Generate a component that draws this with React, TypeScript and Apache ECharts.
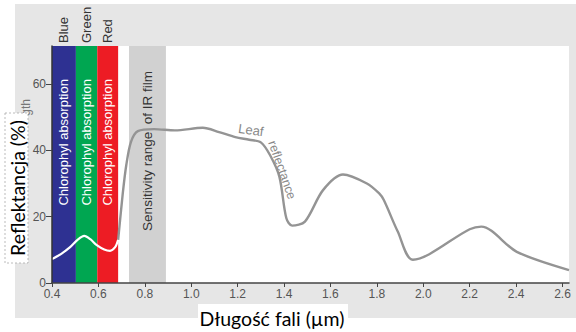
import React, { useEffect, useRef } from "react";
import * as echarts from "echarts";

// ---- data ----
const xTicks = [0.4, 0.6, 0.8, 1.0, 1.2, 1.4, 1.6, 1.8, 2.0, 2.2, 2.4, 2.6];
const yTicks = [0, 20, 40, 60];

const bandNames = ["Blue", "Green", "Red", ""];
const bandFrom = [0.4, 0.503, 0.595, 0.732];
const bandTo = [0.503, 0.595, 0.685, 0.891];
const bandLabels = [
  "Chlorophyl absorption",
  "Chlorophyl absorption",
  "Chlorophyl absorption",
  "Sensitivity range  of IR film",
];

// visible-light part of the curve (drawn white over the coloured bands)
const visibleCurve: [number, number][] = [
  [0.4, 7.2], [0.44, 8.8], [0.478, 10.8], [0.51, 13], [0.539, 14.2],
  [0.565, 13.2], [0.593, 11.4], [0.625, 10.1], [0.65, 9.7], [0.672, 10.8], [0.685, 13],
];
// rest of the leaf reflectance curve
const leafCurve: [number, number][] = [
  [0.685, 13], [0.705, 27], [0.72, 35.5], [0.74, 42.5], [0.77, 45.8],
  [0.84, 46.4], [0.93, 46], [1.05, 46.8], [1.12, 45.5], [1.19, 44],
  [1.25, 43.2], [1.3, 42.4], [1.34, 38.5], [1.38, 32], [1.41, 19.5], [1.435, 17.3],
  [1.49, 18.5], [1.568, 28], [1.654, 32.7], [1.757, 30], [1.81, 27], [1.83, 25],
  [1.89, 15.5], [1.955, 7], [2.2, 16.2], [2.25, 17], [2.403, 9.4], [2.628, 3.9],
];

const bandColors = ["#2e3192", "#00a651", "#ed1c24", "#d1d1d1"];
const bandTextColors = ["#ffffff", "#ffffff", "#ffffff", "#333333"];
const bandTextY = [42.4, 42.4, 42.4, 39.8];
const bandTextSize = [13, 13, 13, 13.5];

const X_MIN = 0.4;
const X_MAX = 2.628;
const Y_MAX = 71.45;
const FONT = "'Liberation Sans', Arial, sans-serif";
const OVERLAY_FONT = "Lato, 'Open Sans', sans-serif";

export default function App() {
  const ref = useRef<HTMLDivElement>(null);

  useEffect(() => {
    if (!ref.current) return;
    const chart = echarts.init(ref.current, undefined, { renderer: "svg" });

    const bandData = bandFrom.map((f, i) => [f, bandTo[i], i]);

    const option: any = {
      animation: false,
      grid: {
        left: 52,
        right: 7,
        top: 46,
        bottom: 49,
        show: true,
        backgroundColor: "#ffffff",
        borderWidth: 0,
      },
      xAxis: {
        type: "value",
        min: X_MIN,
        max: X_MAX,
        z: 10,
        splitLine: { show: false },
        axisLine: { show: true, lineStyle: { color: "#444", width: 1.5 } },
        axisTick: {
          show: true,
          length: 4,
          customValues: xTicks,
          lineStyle: { color: "#444" },
        },
        axisLabel: {
          customValues: xTicks,
          color: "#555",
          fontFamily: FONT,
          fontSize: 12,
          margin: 5,
          formatter: (v: number) => v.toFixed(1),
        },
      },
      yAxis: {
        type: "value",
        min: 0,
        max: Y_MAX,
        z: 10,
        splitLine: { show: false },
        axisLine: { show: true, lineStyle: { color: "#333", width: 1.5 } },
        axisTick: {
          show: true,
          length: 6,
          customValues: yTicks,
          lineStyle: { color: "#444" },
        },
        axisLabel: {
          customValues: yTicks,
          color: "#555",
          fontFamily: FONT,
          fontSize: 12,
          margin: 6,
        },
      },
      series: [
        {
          type: "custom",
          z: 1,
          data: bandData,
          renderItem: (params: any, api: any) => {
            const i = params.dataIndex;
            const from = api.value(0);
            const to = api.value(1);
            const p0 = api.coord([from, Y_MAX]);
            const p1 = api.coord([to, 0]);
            const cx = (p0[0] + p1[0]) / 2;
            const ty = api.coord([from, bandTextY[i]])[1];
            const children: any[] = [
              {
                type: "rect",
                shape: { x: p0[0], y: p0[1], width: p1[0] - p0[0], height: p1[1] - p0[1] },
                style: { fill: bandColors[i] },
              },
              {
                type: "text",
                x: cx,
                y: ty,
                rotation: Math.PI / 2,
                style: {
                  text: bandLabels[i],
                  fill: bandTextColors[i],
                  font: `${bandTextSize[i]}px ${FONT}`,
                  align: "center",
                  verticalAlign: "middle",
                },
              },
            ];
            if (bandNames[i]) {
              children.push({
                type: "text",
                x: cx,
                y: p0[1] - 3,
                rotation: Math.PI / 2,
                style: {
                  text: bandNames[i],
                  fill: "#333",
                  font: `13px ${FONT}`,
                  align: "left",
                  verticalAlign: "middle",
                },
              });
            }
            return { type: "group", children };
          },
        },
        {
          type: "line",
          z: 3,
          data: leafCurve,
          smooth: 0.3,
          symbol: "none",
          lineStyle: { color: "#949494", width: 2.4 },
        },
        {
          type: "line",
          z: 3,
          data: visibleCurve,
          smooth: 0.3,
          symbol: "none",
          lineStyle: { color: "#ffffff", width: 2.2 },
        },
      ],
      graphic: [
        // curve annotation
        {
          type: "text",
          x: 251,
          y: 130,
          rotation: -0.14,
          z: 20,
          style: {
            text: "Leaf",
            fill: "#888",
            font: `13px ${FONT}`,
            align: "center",
            verticalAlign: "middle",
          },
        },
        {
          type: "text",
          x: 282,
          y: 170,
          rotation: -1.23,
          z: 20,
          style: {
            text: "reflectance",
            fill: "#888",
            font: `12.5px ${FONT}`,
            align: "center",
            verticalAlign: "middle",
          },
        },
        // remnant of the original axis title peeking out above the overlay
        {
          type: "text",
          x: 26,
          y: 99,
          rotation: Math.PI / 2,
          z: 20,
          style: {
            text: "gth",
            fill: "#777",
            font: `12px ${FONT}`,
            align: "right",
            verticalAlign: "middle",
          },
        },
        // overlay title boxes
        {
          type: "rect",
          z: 30,
          shape: { x: 5, y: 113, width: 23, height: 150 },
          style: { fill: "#ffffff", stroke: "#aaa", lineWidth: 0.8, lineDash: [2, 2] },
        },
        {
          type: "text",
          x: 17,
          y: 188,
          rotation: Math.PI / 2,
          z: 31,
          style: {
            text: "Reflektancja (%)",
            fill: "#000",
            font: `19.5px ${OVERLAY_FONT}`,
            align: "center",
            verticalAlign: "middle",
          },
        },
        {
          type: "rect",
          z: 30,
          shape: { x: 198, y: 304, width: 150, height: 28 },
          style: { fill: "#ffffff" },
        },
        {
          type: "text",
          x: 272,
          y: 318,
          z: 31,
          style: {
            text: "D\u0142ugo\u015b\u0107 fali (\u00b5m)",
            fill: "#000",
            font: `19.5px ${OVERLAY_FONT}`,
            align: "center",
            verticalAlign: "middle",
          },
        },
      ],
    };

    chart.setOption(option);
    return () => chart.dispose();
  }, []);

  return (
    <div style={{ position: "fixed", left: 0, top: 0, width: 576, height: 332, background: "#ffffff" }}>
      <div
        style={{ position: "absolute", left: 15, top: 4, width: 561, height: 314, background: "#e6e6e6" }}
      />
      <div ref={ref} style={{ position: "absolute", left: 0, top: 0, width: 576, height: 332 }} />
    </div>
  );
}
